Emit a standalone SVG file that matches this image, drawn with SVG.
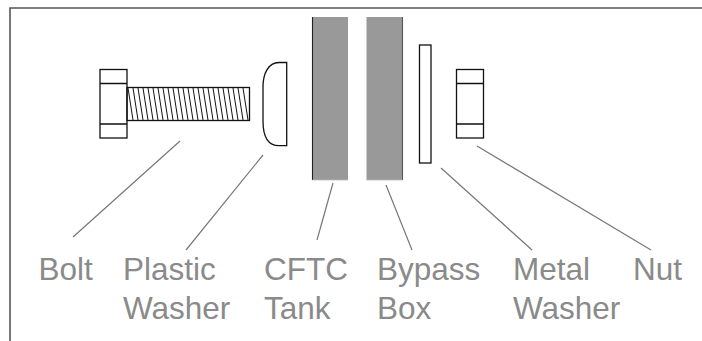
<svg xmlns="http://www.w3.org/2000/svg" width="702" height="341" viewBox="0 0 702 341">
<style>
.l{font-family:"Liberation Sans",Arial,sans-serif;font-size:31.500px;fill:#8a8a8a}
.o{fill:none;stroke:#111;stroke-width:1.300}
.c{fill:none;stroke:#777;stroke-width:1.200}
.t{fill:#999;stroke:none}
</style>
<rect width="702" height="341" fill="#fff"/>
<path id="frame" d="M10 341V8H702" fill="none" stroke="#555" stroke-width="1.600"/>
<g id="bolt">
<rect class="o" x="100" y="69.500" width="27" height="68.500"/>
<path class="o" d="M100 83.500H127M100 124H127"/>
<rect class="o" x="127" y="87.500" width="122.500" height="33"/>
<path d="M128 88l5 32M133 88l5 32M138 88l5 32M143 88l5 32M148 88l5 32M153 88l5 32M158 88l5 32M163 88l5 32M168 88l5 32M173 88l5 32M178 88l5 32M183 88l5 32M188 88l5 32M193 88l5 32M198 88l5 32M203 88l5 32M208 88l5 32M213 88l5 32M218 88l5 32M223 88l5 32M228 88l5 32M233 88l5 32M238 88l5 32M243 88l5 32" fill="none" stroke="#111" stroke-width="1"/>
</g>
<g id="plastic-washer">
<path class="o" d="M286.700 62.500H279C268 62.500 263 74 263 87V121C263 136 268 145.700 279 145.700H286.700Z"/>
</g>
<g id="cftc-tank">
<rect class="t" x="312.500" y="17" width="35.500" height="163"/>
<path d="M312.500 17V180" stroke="#222" stroke-width="1.100" fill="none"/>
<path d="M312.500 180H348" stroke="#bbb" stroke-width="0.800" fill="none"/>
</g>
<g id="bypass-box">
<rect class="t" x="366.500" y="17" width="36" height="163"/>
<path d="M402.500 17V180" stroke="#555" stroke-width="1.100" fill="none"/>
<path d="M366.500 180H402.500" stroke="#bbb" stroke-width="0.800" fill="none"/>
</g>
<g id="metal-washer">
<rect class="o" x="419.500" y="45" width="11.500" height="118"/>
</g>
<g id="nut">
<rect class="o" x="456.500" y="69.500" width="27" height="68.500"/>
<path class="o" d="M456.500 83.500H483.500M456.500 124H483.500"/>
</g>
<g id="connectors">
<path class="c" d="M180 141L73 237"/>
<path class="c" d="M263 155L186 250"/>
<path class="c" d="M333 183L317 240"/>
<path class="c" d="M386 185L412 250"/>
<path class="c" d="M441 168L532 250"/>
<path class="c" d="M477 146L651 250"/>
</g>
<g id="labels">
<text class="l" x="38.500" y="280">Bolt</text>
<text class="l" x="123" y="280">Plastic</text>
<text class="l" x="123" y="319">Washer</text>
<text class="l" x="264" y="280">CFTC</text>
<text class="l" x="264" y="319">Tank</text>
<text class="l" x="377" y="280">Bypass</text>
<text class="l" x="377" y="319">Box</text>
<text class="l" x="513" y="280">Metal</text>
<text class="l" x="513" y="319">Washer</text>
<text class="l" x="633" y="280">Nut</text>
</g>
</svg>
